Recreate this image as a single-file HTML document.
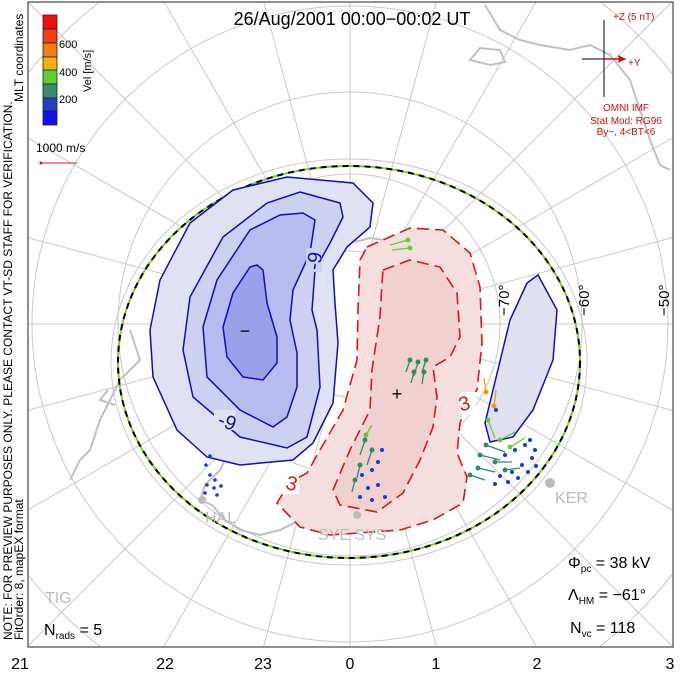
<!DOCTYPE html>
<html><head><meta charset="utf-8"><style>
html,body{margin:0;padding:0;background:#fff;overflow:hidden;width:680px;height:674px;}
svg{display:block;font-family:"Liberation Sans",sans-serif;overflow:hidden;}
</style></head><body>
<svg width="680" height="674" viewBox="0 0 680 674" xmlns="http://www.w3.org/2000/svg">
<defs><clipPath id="fr"><rect x="28" y="2" width="645" height="645"/></clipPath></defs>
<rect width="680" height="674" fill="#fff"/>
<g clip-path="url(#fr)">
 <g fill="none" stroke="#c8c8c8" stroke-width="1">
  <circle cx="350" cy="324" r="73"/><circle cx="350" cy="324" r="150"/>
  <circle cx="350" cy="324" r="232"/><circle cx="350" cy="324" r="318"/>
  <circle cx="350" cy="324" r="408"/>
  <g transform="translate(350,324)">
   <g id="m"><line x1="0" y1="75" x2="0" y2="600"/><line x1="0" y1="-75" x2="0" y2="-600"/><line x1="75" y1="0" x2="600" y2="0"/><line x1="-75" y1="0" x2="-600" y2="0"/></g>
   <use href="#m" transform="rotate(15)"/><use href="#m" transform="rotate(30)"/>
   <use href="#m" transform="rotate(45)"/><use href="#m" transform="rotate(60)"/>
   <use href="#m" transform="rotate(75)"/>
  </g>
 </g>
 <g fill="none" stroke="#c0c0c0" stroke-width="2">
  <path d="M485,5 L500,30 L520,40 L540,45 L570,50 L590,45 L610,55 L630,80 L640,110 L650,140 L660,165 L670,170"/>
  <path d="M470,60 L480,48 L500,50 L505,62 L490,65 Z"/>
  <path d="M235,440 L220,470 L205,485 L200,500 L212,505 L225,520 L240,530 L260,535 L280,530 L300,520"/>
  <path d="M130,330 L140,360 L120,380 L100,420 L90,450 L80,460 L70,480"/>
  <path d="M108,390 L100,400 L115,405"/>
  <path d="M385,240 L370,238 L355,242"/>
 </g>
 <ellipse cx="349" cy="362" rx="238" ry="203" fill="none" stroke="#c8c8c8" stroke-width="1"/>
 <ellipse cx="349" cy="362" rx="231" ry="196" fill="none" stroke="#7ccf2a" stroke-width="2"/>
 <ellipse cx="349" cy="362" rx="231" ry="196" fill="none" stroke="#000" stroke-width="2" stroke-dasharray="6,5"/>

 <path d="M287,177 L353,183 L373,203 L370,227 L347,247 L333,270 L335,303 L338,343 L333,403 L313,443 L293,460 L240,465 L207,457 L177,430 L153,377 L150,330 L160,280 L190,223 L233,190 Z" fill="#e0e2f3" stroke="#1010b0" stroke-width="1.5"/>
 <path d="M300,192 L340,203 L343,217 L330,243 L315,270 L312,310 L317,330 L320,387 L307,437 L287,448 L240,437 L193,397 L183,350 L190,297 L223,237 L267,203 Z" fill="#cdd0f1" stroke="#1010b0" stroke-width="1.5"/>
 <path d="M303,213 L315,220 L310,253 L293,290 L290,320 L297,353 L297,387 L287,417 L273,427 L240,410 L207,377 L203,327 L217,280 L250,230 L280,215 Z" fill="#b7bbee" stroke="#1010b0" stroke-width="1.5"/>
 <path d="M257,265 L263,270 L267,303 L277,337 L277,363 L263,380 L243,377 L227,357 L223,327 L233,293 L250,267 Z" fill="#9aa0ea" stroke="#1010b0" stroke-width="1.5"/>
 <rect x="306" y="248" width="16" height="24" fill="#cdd0f1"/>
 <text x="0" y="0" font-size="20" fill="#1010b0" text-anchor="middle" transform="translate(321,262) rotate(-80)">-9</text>
 <rect x="214" y="410" width="22" height="20" fill="#e0e2f3"/>
 <text x="0" y="0" font-size="20" fill="#1010b0" text-anchor="middle" transform="translate(225,428) rotate(20)">-9</text>
 <text x="245" y="337" font-size="18" fill="#000" text-anchor="middle">−</text>

 <path d="M538,275 L557,310 L553,360 L533,410 L513,437 L490,442 L485,423 L493,390 L510,320 L527,283 Z" fill="#dfe0f0" stroke="#1010b0" stroke-width="1.5"/>

 <path d="M367,247 L410,228 L443,230 L470,253 L480,287 L482,343 L477,390 L467,403 L460,423 L457,453 L467,477 L463,503 L433,520 L400,530 L330,535 L300,527 L277,503 L290,482 L307,473 L320,450 L343,410 L357,360 L358,310 L360,260 Z" fill="#f4dede" stroke="#d81818" stroke-width="1.6" stroke-dasharray="12,6"/>
 <path d="M383,270 L410,260 L440,267 L457,293 L460,337 L450,357 L433,367 L437,397 L433,427 L420,460 L403,493 L377,512 L340,505 L333,490 L350,450 L370,410 L372,370 L380,317 L382,283 Z" fill="#f1d0d0" stroke="#d81818" stroke-width="1.6" stroke-dasharray="12,6"/>
 <rect x="460" y="392" width="16" height="22" fill="#fff"/>
 <text x="0" y="0" font-size="20" fill="#d81818" text-anchor="middle" transform="translate(466,410) rotate(-15)">3</text>
 <rect x="283" y="472" width="16" height="22" fill="#fff"/>
 <text x="0" y="0" font-size="20" fill="#d81818" text-anchor="middle" transform="translate(290,490) rotate(15)">3</text>
 <text x="397" y="400" font-size="18" fill="#000" text-anchor="middle">+</text>

 <g stroke-width="1.3">
  <g stroke="#2a8a6a" fill="#2a8a6a">
   <line x1="410" y1="360" x2="406" y2="372"/><circle cx="410" cy="360" r="1.8"/>
   <line x1="418" y1="362" x2="414" y2="376"/><circle cx="418" cy="362" r="1.8"/>
   <line x1="426" y1="360" x2="422" y2="372"/><circle cx="426" cy="360" r="1.8"/>
   <line x1="414" y1="372" x2="411" y2="383"/><circle cx="414" cy="372" r="1.8"/>
   <line x1="424" y1="372" x2="422" y2="384"/><circle cx="424" cy="372" r="1.8"/>
   <line x1="365" y1="440" x2="360" y2="455"/><circle cx="365" cy="440" r="1.8"/>
   <line x1="372" y1="450" x2="367" y2="465"/><circle cx="372" cy="450" r="1.8"/>
   <line x1="360" y1="465" x2="357" y2="478"/><circle cx="360" cy="465" r="1.8"/>
   <line x1="355" y1="480" x2="352" y2="492"/><circle cx="355" cy="480" r="1.8"/>
   <line x1="470" y1="475" x2="485" y2="480"/><circle cx="470" cy="475" r="1.8"/>
   <line x1="478" y1="468" x2="495" y2="472"/><circle cx="478" cy="468" r="1.8"/>
   <line x1="480" y1="455" x2="500" y2="460"/><circle cx="480" cy="455" r="1.8"/>
   <line x1="486" y1="445" x2="505" y2="452"/><circle cx="486" cy="445" r="1.8"/>
   <line x1="495" y1="462" x2="512" y2="462"/><circle cx="495" cy="462" r="1.8"/>
   <line x1="505" y1="470" x2="520" y2="468"/><circle cx="505" cy="470" r="1.8"/>
  </g>
  <g stroke="#6ac83a" fill="#6ac83a">
   <line x1="390" y1="245" x2="408" y2="240"/><circle cx="408" cy="240" r="1.8"/>
   <line x1="392" y1="250" x2="410" y2="248"/><circle cx="410" cy="248" r="1.8"/>
   <line x1="488" y1="420" x2="495" y2="438"/><circle cx="488" cy="420" r="1.8"/>
   <line x1="500" y1="440" x2="515" y2="432"/><circle cx="500" cy="440" r="1.8"/>
   <line x1="510" y1="447" x2="525" y2="438"/><circle cx="510" cy="447" r="1.8"/>
   <line x1="366" y1="435" x2="372" y2="425"/><circle cx="366" cy="435" r="1.8"/>
  </g>
  <g stroke="#f0a010" fill="#f0a010">
   <line x1="486" y1="392" x2="484" y2="378"/><circle cx="486" cy="392" r="1.8"/>
   <line x1="494" y1="406" x2="496" y2="390"/><circle cx="494" cy="406" r="1.8"/>
  </g>
  <g fill="#1a3ad0">
   <circle cx="362" cy="475" r="2"/><circle cx="372" cy="470" r="2"/><circle cx="378" cy="462" r="2"/>
   <circle cx="368" cy="488" r="2"/><circle cx="378" cy="485" r="2"/><circle cx="382" cy="450" r="2"/>
   <circle cx="360" cy="497" r="2"/><circle cx="372" cy="500" r="2"/><circle cx="385" cy="497" r="2"/>
   <circle cx="505" cy="455" r="2"/><circle cx="515" cy="450" r="2"/><circle cx="525" cy="445" r="2"/>
   <circle cx="500" cy="476" r="2"/><circle cx="512" cy="472" r="2"/><circle cx="522" cy="465" r="2"/>
   <circle cx="532" cy="458" r="2"/><circle cx="530" cy="440" r="2"/><circle cx="535" cy="450" r="2"/>
   <circle cx="495" cy="484" r="2"/><circle cx="508" cy="482" r="2"/><circle cx="518" cy="478" r="2"/>
   <circle cx="528" cy="472" r="2"/><circle cx="536" cy="466" r="2"/><circle cx="496" cy="410" r="2"/>
   <circle cx="206" cy="465" r="1.8"/><circle cx="210" cy="475" r="1.8"/><circle cx="215" cy="480" r="1.8"/>
   <circle cx="207" cy="485" r="1.8"/><circle cx="214" cy="488" r="1.8"/><circle cx="221" cy="486" r="1.8"/>
   <circle cx="205" cy="493" r="1.8"/><circle cx="217" cy="495" r="1.8"/><circle cx="210" cy="456" r="1.8"/>
  </g>
 </g>
 <g fill="#bbb" font-size="16">
  <text x="205" y="523">HAL</text>
  <text x="318" y="540">SYE SYS</text>
  <text x="555" y="503">KER</text>
  <text x="45" y="603">TIG</text>
  <circle cx="202" cy="500" r="4"/><circle cx="357" cy="515" r="4"/><circle cx="550" cy="483" r="5"/>
 </g>
 <g font-size="15" fill="#000">
  <text transform="translate(509,316) rotate(-90)">−70°</text>
  <text transform="translate(589,316) rotate(-90)">−60°</text>
  <text transform="translate(669,316) rotate(-90)">−50°</text>
 </g>
</g>
<rect x="28" y="2" width="645" height="645" fill="none" stroke="#555" stroke-width="1.3"/>

<text x="352" y="25" font-size="18" text-anchor="middle" fill="#000">26/Aug/2001  00:00−00:02  UT</text>
<g stroke="#222" stroke-width="0.8">
 <rect x="43" y="15" width="14" height="14" fill="#f01010"/>
 <rect x="43" y="29" width="14" height="14" fill="#f04010"/>
 <rect x="43" y="43" width="14" height="14" fill="#f08010"/>
 <rect x="43" y="57" width="14" height="13" fill="#f8b010"/>
 <rect x="43" y="70" width="14" height="14" fill="#60d030"/>
 <rect x="43" y="84" width="14" height="14" fill="#3a8a70"/>
 <rect x="43" y="98" width="14" height="13" fill="#2040c0"/>
 <rect x="43" y="111" width="14" height="14" fill="#1010f0"/>
</g>
<g font-size="11" fill="#000">
 <text x="59" y="48">600</text><text x="59" y="76">400</text><text x="59" y="103">200</text>
 <text transform="translate(91,92) rotate(-90)">Vel [m/s]</text>
 <text x="36" y="152" font-size="12">1000 m/s</text>
</g>
<line x1="41" y1="163" x2="77" y2="163" stroke="#d02020" stroke-width="1"/>
<circle cx="41" cy="163" r="1.5" fill="#d02020"/>
<g font-size="12" fill="#000">
 <text transform="translate(12,640) rotate(-90)">NOTE: FOR PREVIEW PURPOSES ONLY. PLEASE CONTACT VT-SD STAFF FOR VERIFICATION.</text>
 <text transform="translate(23,640) rotate(-90)">FitOrder: 8, mapEX format</text>
 <text transform="translate(23,102) rotate(-90)">MLT coordinates</text>
</g>
<line x1="604" y1="20" x2="604" y2="97" stroke="#000" stroke-width="1"/>
<line x1="582" y1="59" x2="626" y2="59" stroke="#000" stroke-width="1"/>
<line x1="604" y1="59" x2="624" y2="59" stroke="#d01010" stroke-width="1.5"/>
<path d="M626,59 L618,55 L619,59 L618,63 Z" fill="#d01010"/>
<g font-size="10" fill="#d01010">
 <text x="613" y="20">+Z (5 nT)</text>
 <text x="628" y="66">+Y</text>
 <text x="626" y="111" text-anchor="middle">OMNI IMF</text>
 <text x="626" y="124" text-anchor="middle">Stat Mod: RG96</text>
 <text x="626" y="135" text-anchor="middle">By−, 4&lt;BT&lt;6</text>
</g>
<g font-size="16" fill="#000">
 <text x="568" y="568">Φ<tspan font-size="10" dy="4">pc</tspan><tspan dy="-4"> =  38  kV</tspan></text>
 <text x="568" y="600">Λ<tspan font-size="10" dy="4">HM</tspan><tspan dy="-4"> =  −61°</tspan></text>
 <text x="570" y="633">N<tspan font-size="10" dy="4">vc</tspan><tspan dy="-4"> =  118</tspan></text>
 <text x="44" y="635">N<tspan font-size="10" dy="4">rads</tspan><tspan dy="-4"> =  5</tspan></text>
</g>
<g font-size="16" fill="#000" text-anchor="middle">
 <text x="20" y="669">21</text><text x="165" y="669">22</text><text x="263" y="669">23</text>
 <text x="350" y="669">0</text><text x="436" y="669">1</text><text x="537" y="669">2</text><text x="670" y="669">3</text>
</g>
</svg>
</body></html>
